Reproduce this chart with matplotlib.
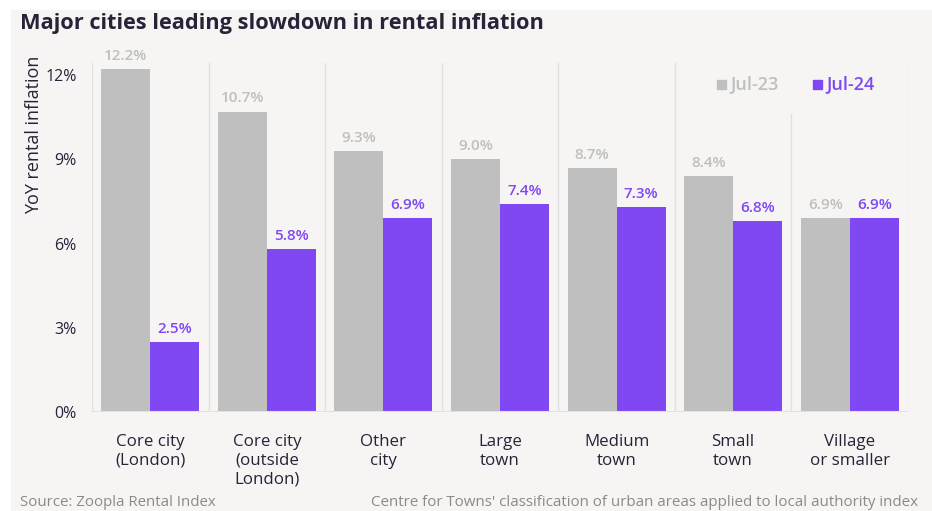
import matplotlib.pyplot as plt
import numpy as np
from matplotlib.patches import Rectangle

categories = [
    "Core city\n(London)",
    "Core city\n(outside\nLondon)",
    "Other\ncity",
    "Large\ntown",
    "Medium\ntown",
    "Small\ntown",
    "Village\nor smaller",
]
jul23 = [12.2, 10.7, 9.3, 9.0, 8.7, 8.4, 6.9]
jul24 = [2.5, 5.8, 6.9, 7.4, 7.3, 6.8, 6.9]
yticks = [0, 3, 6, 9, 12]

GREY = "#bfbfbf"
PURPLE = "#8048f2"
DARK = "#2a2238"
BG = "#f6f5f4"
GRID = "#e2e1e0"

plt.rcParams["font.family"] = ["Open Sans", "DejaVu Sans"]

fig = plt.figure(figsize=(9.32, 5.11), dpi=100, facecolor="white")
fig.patches.append(Rectangle((11 / 932, 0), 1, 1 - 10 / 511,
                             transform=fig.transFigure, color=BG, zorder=-10))
ax = fig.add_axes([92 / 932, 1 - 412 / 511, (908 - 92) / 932, (412 - 63) / 511])
ax.set_facecolor(BG)

x = np.arange(len(categories))
w = 0.42
ax.bar(x - w / 2, jul23, width=w, color=GREY, zorder=3, label="Jul-23")
ax.bar(x + w / 2, jul24, width=w, color=PURPLE, zorder=3, label="Jul-24")

for xi, v in zip(x, jul23):
    ax.text(xi - w / 2, v + 0.22, f"{v:.1f}%", ha="center", va="bottom",
            fontsize=11, color=GREY, fontweight="semibold", zorder=4)
for xi, v in zip(x, jul24):
    ax.text(xi + w / 2, v + 0.22, f"{v:.1f}%", ha="center", va="bottom",
            fontsize=11, color=PURPLE, fontweight="semibold", zorder=4)

ax.set_xlim(-0.5, len(categories) - 0.5)
ax.set_ylim(0, 12.43)

# separators between categories
for i in range(len(categories) + 1):
    top = 1.0
    if i == len(categories) - 1:
        top = (412 - 114) / (412 - 63)
    ax.axvline(i - 0.5, ymin=0, ymax=top, color=GRID, lw=1, zorder=1)
ax.axhline(0, color=GRID, lw=1.5, zorder=4)

for s in ax.spines.values():
    s.set_visible(False)

ax.set_yticks(yticks)
ax.set_yticklabels([f"{t}%" for t in yticks], fontsize=11.5, color=DARK)
ax.set_xticks(x)
ax.set_xticklabels(categories, fontsize=12.2, color=DARK, linespacing=1.22)
ax.tick_params(axis="both", length=0)
ax.tick_params(axis="y", pad=11)
ax.tick_params(axis="x", pad=16)
ax.set_ylabel("YoY rental inflation", fontsize=13, color=DARK)
ax.yaxis.set_label_coords((43 - 92) / 816, (412 - 135) / 349)

# legend
fig.patches.append(Rectangle((717 / 932, 1 - 89 / 511), 9 / 932, 9 / 511,
                             transform=fig.transFigure, color=GREY))
fig.text(730 / 932, 1 - 84 / 511, "Jul-23", fontsize=13, color=GREY,
         fontweight="semibold", va="center")
fig.patches.append(Rectangle((813 / 932, 1 - 89 / 511), 9 / 932, 9 / 511,
                             transform=fig.transFigure, color=PURPLE))
fig.text(826 / 932, 1 - 84 / 511, "Jul-24", fontsize=13, color=PURPLE,
         fontweight="semibold", va="center")

fig.text(20 / 932, 1 - 24 / 511, "Major cities leading slowdown in rental inflation",
         fontsize=15.7, fontweight="bold", color=DARK, va="center")
fig.text(20 / 932, 1 - 502 / 511, "Source: Zoopla Rental Index",
         fontsize=10.8, color="#8a8a8a", va="center")
fig.text(918 / 932, 1 - 502 / 511,
         "Centre for Towns' classification of urban areas applied to local authority index",
         fontsize=10.9, color="#8a8a8a", va="center", ha="right")

fig.savefig("out.png", dpi=100, facecolor="white")
